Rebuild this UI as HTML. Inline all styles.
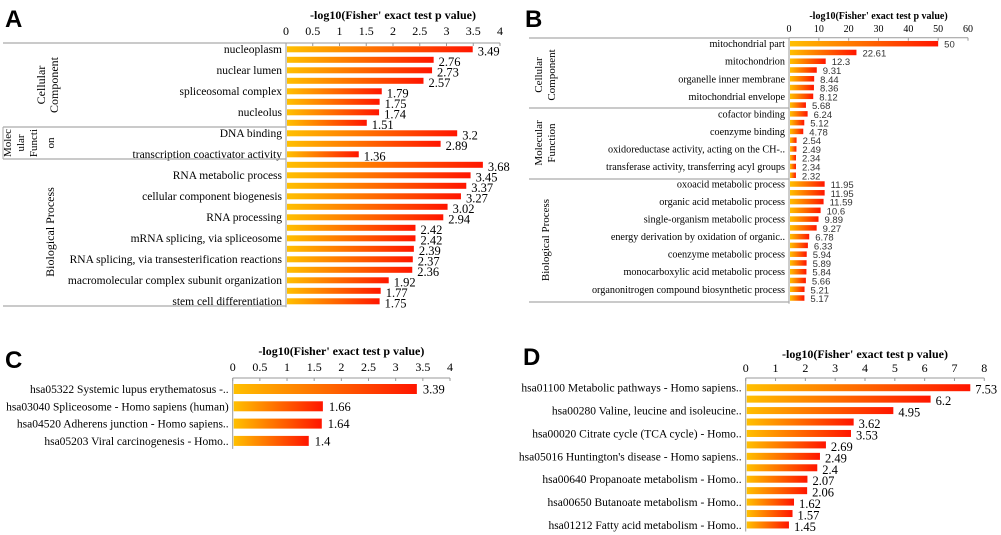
<!DOCTYPE html>
<html><head><meta charset="utf-8"><style>
body{margin:0;background:#fff;width:1001px;height:535px;overflow:hidden}
svg{display:block;font-family:"Liberation Serif",serif}
.pl{font-family:"Liberation Sans",sans-serif;font-weight:bold;font-size:24px}
</style></head><body>
<svg id="fig" width="1001" height="535">
<defs><linearGradient id="g" x1="0" x2="1" y1="0" y2="0"><stop offset="0" stop-color="#ffc000"/><stop offset="1" stop-color="#ff1500"/></linearGradient></defs>
<text class="pl" x="5" y="27">A</text>
<text class="pl" x="525" y="27">B</text>
<text class="pl" x="5" y="368">C</text>
<text class="pl" x="523" y="365">D</text>
</svg>
<script>
const aValues=[3.49,2.76,2.73,2.57,1.79,1.75,1.74,1.51,3.2,2.89,1.36,3.68,3.45,3.37,3.27,3.02,2.94,2.42,2.42,2.39,2.37,2.36,1.92,1.77,1.75];
const aLabels=["nucleoplasm","","nuclear lumen","","spliceosomal complex","","nucleolus","","DNA binding","","transcription coactivator activity","","RNA metabolic process","","cellular component biogenesis","","RNA processing","","mRNA splicing, via spliceosome","","RNA splicing, via transesterification reactions","","macromolecular complex subunit organization","","stem cell differentiation"];
const aTicks=["0","0.5","1","1.5","2","2.5","3","3.5","4"];
const bValues=[50,22.61,12.3,9.31,8.44,8.36,8.12,5.68,6.24,5.12,4.78,2.54,2.49,2.34,2.34,2.32,11.95,11.95,11.59,10.6,9.89,9.27,6.78,6.33,5.94,5.89,5.84,5.66,5.21,5.17];
const bLabels=["mitochondrial part","","mitochondrion","","organelle inner membrane","","mitochondrial envelope","","cofactor binding","","coenzyme binding","","oxidoreductase activity, acting on the CH-..","","transferase activity, transferring acyl groups","","oxoacid metabolic process","","organic acid metabolic process","","single-organism metabolic process","","energy derivation by oxidation of organic..","","coenzyme metabolic process","","monocarboxylic acid metabolic process","","organonitrogen compound biosynthetic process",""];
const bTicks=["0","10","20","30","40","50","60"];
const cValues=[3.39,1.66,1.64,1.4];
const cLabels=["hsa05322 Systemic lupus erythematosus -..","hsa03040 Spliceosome - Homo sapiens (human)","hsa04520 Adherens junction - Homo sapiens..","hsa05203 Viral carcinogenesis - Homo.."];
const cTicks=["0","0.5","1","1.5","2","2.5","3","3.5","4"];
const dValues=[7.53,6.2,4.95,3.62,3.53,2.69,2.49,2.4,2.07,2.06,1.62,1.57,1.45];
const dLabels=["hsa01100 Metabolic pathways - Homo sapiens..","","hsa00280 Valine, leucine and isoleucine..","","hsa00020 Citrate cycle (TCA cycle) - Homo..","","hsa05016 Huntington's disease - Homo sapiens..","","hsa00640 Propanoate metabolism - Homo..","","hsa00650 Butanoate metabolism - Homo..","","hsa01212 Fatty acid metabolism - Homo.."];
const dTicks=["0","1","2","3","4","5","6","7","8"];

const svg=document.getElementById('fig');
const NS='http://www.w3.org/2000/svg';
function mk(tag,attrs,txt){const e=document.createElementNS(NS,tag);for(const k in attrs)e.setAttribute(k,attrs[k]);if(txt!==undefined)e.textContent=txt;svg.appendChild(e);return e;}

function chart(p,vals,labs,ticks){
  const max=parseFloat(ticks[ticks.length-1]);
  const sx=v=>p.x0+(p.x1-p.x0)*v/max;
  const sy=i=>p.y0+i*p.step;
  let t=mk('text',{x:(p.x0+p.x1)/2,y:p.titleY,'text-anchor':'middle','font-weight':'bold','font-size':p.tfs},'-log10(Fisher\' exact test p value)');
  
  
  let ax=mk('line',{x1:p.x0,x2:p.x1,y1:p.axisY,y2:p.axisY,stroke:'#999','stroke-width':1});
  
  
  let ay=mk('line',{x1:p.x0,x2:p.x0,y1:p.axisY,y2:sy(vals.length-1)+p.bh/2+3,stroke:'#999','stroke-width':1});
  
  
  ticks.forEach(tk=>{
    const x=sx(parseFloat(tk));
    let l=mk('text',{x:x,y:p.tickY,'text-anchor':'middle','font-size':p.kfs},tk);
    
    
    mk('line',{x1:x,x2:x,y1:p.axisY,y2:p.axisY+3,stroke:'#999'});
  });
  vals.forEach((v,i)=>{
    const y=sy(i);
    let r=mk('rect',{x:p.x0+1,y:y-p.bh/2,width:sx(v)-p.x0-1,height:p.bh,fill:'url(#g)'});
    
    
    let vl=mk('text',{x:sx(v)+p.vgap,y:y+p.dy,'font-size':p.vfs,fill:p.vcol,'font-family':p.vfam},String(v));
    
    
    if(labs[i]){
      let c=mk('text',{x:p.x0-4,y:y+p.ldy,'text-anchor':'end','font-size':p.lfs},labs[i]);
      
      
    }
  });
}
chart({x0:286,x1:500,y0:49.3,step:10.5,bh:6,axisY:43,titleY:19,tickY:35,tfs:12,kfs:12,vfs:12.5,lfs:11.5,vgap:5,dy:6,ldy:3.5,vcol:'#000',vfam:'Liberation Serif'},aValues,aLabels,aTicks);
chart({x0:789,x1:968,y0:43.7,step:8.77,bh:5.5,axisY:37.7,titleY:19,tickY:32,tfs:10,kfs:10,vfs:9.5,lfs:10.2,vgap:6,dy:4,ldy:3.5,vcol:'#333',vfam:'Liberation Sans'},bValues,bLabels,bTicks);
chart({x0:232.7,x1:450,y0:389,step:17.3,bh:10,axisY:378,titleY:355,tickY:371,tfs:12,kfs:12,vfs:12.5,lfs:11.5,vgap:6,dy:4.5,ldy:4,vcol:'#000',vfam:'Liberation Serif'},cValues,cLabels,cTicks);
chart({x0:745.7,x1:984.3,y0:387.7,step:11.44,bh:7,axisY:378,titleY:358,tickY:372,tfs:12,kfs:12,vfs:12.5,lfs:11.5,vgap:5,dy:6,ldy:4,vcol:'#000',vfam:'Liberation Serif'},dValues,dLabels,dTicks);

function hl(x1,x2,y,n){let l=mk('line',{x1:x1,x2:x2,y1:y,y2:y,stroke:'#aaa','stroke-width':1.2});}
function vt(x,y,txt,fs,n){let t=mk('text',{x:0,y:0,transform:`translate(${x},${y}) rotate(-90)`,'text-anchor':'middle','font-size':fs},txt);}
hl(3,286,43,'group-line');hl(3,286,127,'group-line');hl(3,286,159,'group-line');hl(3,286,306,'group-line');
mk('line',{x1:3,x2:3,y1:127,y2:159,stroke:'#aaa'});
vt(45,85,'Cellular',12,'group-label');vt(58,85,'Component',12,'group-label');
vt(11,143,'Molec',11,'group-label');vt(24,143,'ular',11,'group-label');vt(37,143,'Functi',11,'group-label');vt(54,143,'on',11,'group-label');
vt(54,232,'Biological Process',12,'group-label');
hl(529,789,38,'group-line');hl(529,789,108,'group-line');hl(529,789,179,'group-line');hl(529,789,302,'group-line');
vt(542,75,'Cellular',11,'group-label');vt(555,75,'Component',11,'group-label');
vt(542,143,'Molecular',11,'group-label');vt(555,143,'Function',11,'group-label');
vt(549,240,'Biological Process',11,'group-label');
</script>
</body></html>
